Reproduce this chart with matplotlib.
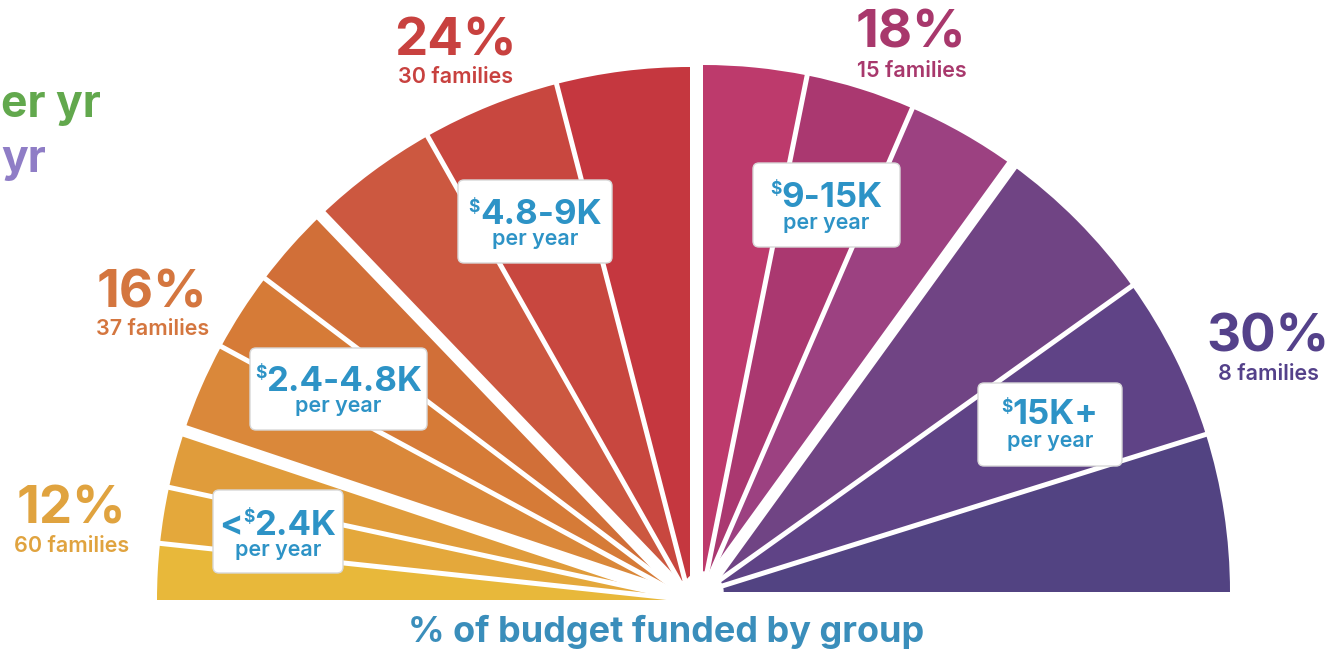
import numpy as np
import matplotlib.pyplot as plt
from matplotlib.patches import Wedge, FancyBboxPatch, Circle

W, H = 1338, 652

# budget groups, going round the half circle from left to right
groups = ['<$2.4K', '$2.4-4.8K', '$4.8-9K', '$9-15K', '$15K+']
shares = [12, 16, 24, 18, 30]
families = [60, 37, 30, 15, 8]
# angle (deg) of each thin slice inside a group
slice_spans = [[6.1, 6.1, 6.3],
               [9.9, 8.7, 9.1],
               [14.3, 15.0, 14.5],
               [11.4, 12.0, 12.5],
               [18.6, 18.1, 17.4]]
slice_colors = [['#E8B83A', '#E4A83B', '#E09C3B'],
                ['#DA883A', '#D67B37', '#D16F38'],
                ['#CC5840', '#C8473F', '#C5373F'],
                ['#BD3A6C', '#AA3870', '#9C4181'],
                ['#704484', '#5F4386', '#524382']]
label_colors = ['#E0A33F', '#D4763F', '#C8413F', '#A8386C', '#54418A']

FONT = ['Inter', 'DejaVu Sans']
BLUE = '#2D93C6'

fig = plt.figure(figsize=(W / 100, H / 100), dpi=100)
ax = fig.add_axes([0, 0, 1, 1])
ax.set_xlim(0, W)
ax.set_ylim(0, H)
ax.axis('off')


def Y(y):
    # picture rows counted from the top
    return H - y


# two quarter circles, slightly pulled apart
halves = [([0, 1, 2], (690, Y(600)), 533, 180),
          ([3, 4], (703, Y(592)), 527, 90)]

for idx, c, r, start in halves:
    ang = start
    cuts = []
    for k, g in enumerate(idx):
        for j, span in enumerate(slice_spans[g]):
            ax.add_patch(Wedge(c, r, ang - span, ang, facecolor=slice_colors[g][j],
                               edgecolor='none'))
            ang -= span
            last_in_group = j == len(slice_spans[g]) - 1
            if last_in_group and k == len(idx) - 1:
                continue
            cuts.append((ang, 12 if last_in_group else 5))
    for a, px in cuts:
        t = np.radians(a)
        ax.plot([c[0], c[0] + (r + 20) * np.cos(t)], [c[1], c[1] + (r + 20) * np.sin(t)],
                color='white', lw=px * 0.72, solid_capstyle='butt')
    ax.add_patch(Circle(c, 20, color='white'))

# share and family count labels (x, baseline)
pct_pos = [(71, 523), (152, 307), (455, 55), (911, 47), (1268, 352)]
fam_pos = [(72, 552), (153, 335), (456, 83), (912, 77), (1268, 380)]
for i in range(len(groups)):
    ax.text(pct_pos[i][0], Y(pct_pos[i][1]), f'{shares[i]}%', ha='center', va='baseline',
            fontsize=38, fontweight='bold', color=label_colors[i], family=FONT)
    ax.text(fam_pos[i][0], Y(fam_pos[i][1]), f'{families[i]} families', ha='center',
            va='baseline', fontsize=15.5, fontweight='semibold', color=label_colors[i],
            family=FONT)

# white boxes with the group names: box (x0, y0, x1, y1), main baseline, per year baseline
boxes = [(213, 490, 343, 573, 535, 556),
         (250, 348, 427, 430, 391, 412),
         (458, 180, 612, 263, 224, 245),
         (753, 163, 900, 247, 207, 229),
         (978, 383, 1122, 466, 424, 447)]

renderer = fig.canvas.get_renderer()
size = 25
for g, (x0, y0, x1, y1, b1, b2) in zip(groups, boxes):
    ax.add_patch(FancyBboxPatch((x0, Y(y1)), x1 - x0, y1 - y0,
                                boxstyle='round,pad=0,rounding_size=6',
                                facecolor='white', edgecolor='#D8D8D8', lw=1, zorder=5))
    cx = (x0 + x1) / 2
    pre, post = g.split('$')
    parts = [(pre, 1.0, 0), ('$', 0.5, 0.36 * size / 0.72), (post, 1.0, 0)]
    ts = []
    for s, sc, up in parts:
        if not s:
            continue
        ts.append(ax.text(0, Y(b1) + up, s, ha='left', va='baseline', fontsize=size * sc,
                          fontweight='bold', color=BLUE, family=FONT, zorder=6,
                          parse_math=False))
    widths = [t.get_window_extent(renderer).width for t in ts]
    x = cx - sum(widths) / 2
    for t, w in zip(ts, widths):
        t.set_x(x)
        x += w
    ax.text(cx, Y(b2), 'per year', ha='center', va='baseline', fontsize=15.5,
            fontweight='semibold', color=BLUE, family=FONT, zorder=6)

ax.text(666, Y(642), '% of budget funded by group', ha='center', va='baseline',
        fontsize=26, fontweight='bold', color='#3A8EBB', family=FONT)

# legend text that sits at the left edge
ax.text(1, Y(117), 'er yr', ha='left', va='baseline', fontsize=32, fontweight='bold',
        color='#62A84D', family=FONT)
ax.text(1, Y(172), 'yr', ha='left', va='baseline', fontsize=32, fontweight='bold',
        color='#8F7DC6', family=FONT)

fig.savefig('out.png', dpi=100)
